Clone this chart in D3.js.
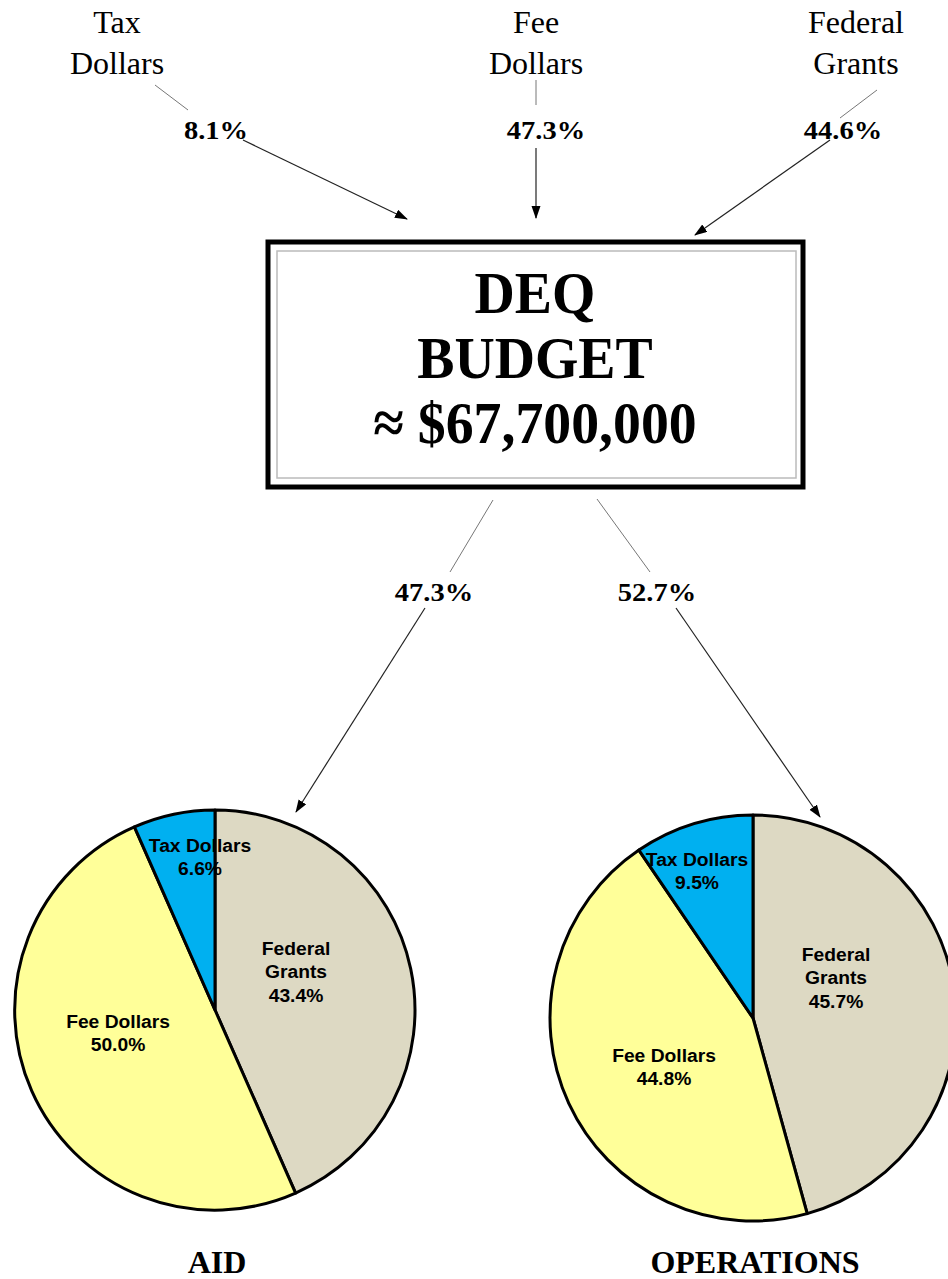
<!DOCTYPE html>
<html><head><meta charset="utf-8">
<script src="https://cdn.jsdelivr.net/npm/d3@7"></script>
<style>html,body{margin:0;padding:0;background:#fff;}svg{display:block;}</style>
</head><body>
<svg id="c" width="948" height="1279"></svg>
<script>
// ---- data ----
const sources = ["Tax Dollars", "Fee Dollars", "Federal Grants"];
const sourceShares = ["8.1%", "47.3%", "44.6%"];
const budgetTitle = ["DEQ", "BUDGET", "≈ $67,700,000"];
const splitNames = ["AID", "OPERATIONS"];
const splitShares = ["47.3%", "52.7%"];
const sliceNames = ["Federal Grants", "Fee Dollars", "Tax Dollars"];
const aidValues = [43.4, 50.0, 6.6];
const opsValues = [45.7, 44.8, 9.5];
const sliceColors = ["#DDD9C3", "#FFFF99", "#00B0F0"];

const svg = d3.select("#c");
const serif = "'Liberation Serif','Times New Roman',serif";
const sans = "'Liberation Sans',Arial,sans-serif";

svg.append("defs").append("marker")
  .attr("id","ah").attr("markerUnits","userSpaceOnUse")
  .attr("markerWidth",14).attr("markerHeight",10)
  .attr("refX",12).attr("refY",4.5).attr("orient","auto")
  .append("path").attr("d","M0,0 L13,4.5 L0,9 Z").attr("fill","#000");

function pctText(x, y, s) {
  svg.append("text").attr("transform",`translate(${x},${y}) scale(1.14,1)`)
    .attr("font-family",serif).attr("font-weight","bold")
    .attr("font-size",25).attr("text-anchor","middle").text(s);
}

// ---- top source labels ----
const topLayout = [
  {x:117, px:216, conn:[[155,85],[188,110]], arrow:[[243,140],[407,219]]},
  {x:536, px:546, conn:[[536,80],[536,105]], arrow:[[536,148],[536,218]]},
  {x:856, px:843, conn:[[877,90],[840,118]], arrow:[[830,140],[695,235]]}
];
sources.forEach((s,i)=>{
  const L = topLayout[i];
  const words = s.split(" ");
  const t = svg.append("text").attr("font-family",serif).attr("font-size",32)
    .attr("text-anchor","middle").attr("fill","#000");
  words.forEach((w,j)=>t.append("tspan").attr("x",L.x).attr("y",33+j*41).text(w));
  svg.append("line").attr("x1",L.conn[0][0]).attr("y1",L.conn[0][1]).attr("x2",L.conn[1][0]).attr("y2",L.conn[1][1])
    .attr("stroke","#777").attr("stroke-width",1);
  pctText(L.px, 139, sourceShares[i]);
  svg.append("line").attr("x1",L.arrow[0][0]).attr("y1",L.arrow[0][1]).attr("x2",L.arrow[1][0]).attr("y2",L.arrow[1][1])
    .attr("stroke","#222").attr("stroke-width",1.2).attr("marker-end","url(#ah)");
});

// ---- budget box ----
svg.append("rect").attr("x",268).attr("y",242).attr("width",535).attr("height",245)
  .attr("fill","#fff").attr("stroke","#000").attr("stroke-width",5);
svg.append("rect").attr("x",277).attr("y",251).attr("width",519).attr("height",227)
  .attr("fill","none").attr("stroke","#bbb").attr("stroke-width",1.5);
budgetTitle.forEach((t,i)=>{
  svg.append("text").attr("transform",`translate(535,${313+i*65}) scale(0.93,1)`)
    .attr("font-family",serif).attr("font-weight","bold")
    .attr("font-size",60).attr("text-anchor","middle").text(t);
});

// ---- split labels ----
const splitLayout = [
  {px:434, conn:[[493,500],[450,572]], arrow:[[425,608],[296,812]]},
  {px:657, conn:[[597,499],[650,572]], arrow:[[676,608],[820,817]]}
];
splitShares.forEach((s,i)=>{
  const L = splitLayout[i];
  svg.append("line").attr("x1",L.conn[0][0]).attr("y1",L.conn[0][1]).attr("x2",L.conn[1][0]).attr("y2",L.conn[1][1])
    .attr("stroke","#777").attr("stroke-width",1);
  pctText(L.px, 601, s);
  svg.append("line").attr("x1",L.arrow[0][0]).attr("y1",L.arrow[0][1]).attr("x2",L.arrow[1][0]).attr("y2",L.arrow[1][1])
    .attr("stroke","#222").attr("stroke-width",1.2).attr("marker-end","url(#ah)");
});

// ---- pies ----
const pies = [
  {name:splitNames[0], values:aidValues, cx:215, cy:1010, r:200,
   labels:[[81,-55],[-97,18],[-15,-158]]},
  {name:splitNames[1], values:opsValues, cx:753, cy:1018, r:203,
   labels:[[83,-57],[-89,44],[-56,-152]]}
];
const color = d3.scaleOrdinal().domain(sliceNames).range(sliceColors);
const pieGen = d3.pie().sort(null).value(d=>d.v);
pies.forEach(P=>{
  const data = sliceNames.map((n,i)=>({n, v:P.values[i]}));
  const arcs = pieGen(data);
  const arc = d3.arc().innerRadius(0).outerRadius(P.r);
  const g = svg.append("g").attr("transform",`translate(${P.cx},${P.cy})`);
  g.selectAll("path").data(arcs).join("path").attr("d",arc)
    .attr("fill",d=>color(d.data.n)).attr("stroke","#000").attr("stroke-width",3).attr("stroke-linejoin","round");
  arcs.forEach((a,i)=>{
    const lines = (a.data.n==="Federal Grants" ? ["Federal","Grants"] : [a.data.n]).concat([d3.format(".1f")(a.data.v)+"%"]);
    const [lx,ly] = P.labels[i];
    const t = g.append("text").attr("transform",`translate(${lx},${ly}) scale(1.07,1)`)
      .attr("font-family",sans).attr("font-weight","bold").attr("font-size",18)
      .attr("text-anchor","middle").attr("fill","#000");
    lines.forEach((l,j)=>t.append("tspan").attr("x",0).attr("y",j*23.5).text(l));
  });
  svg.append("text").attr("x",P.cx+2).attr("y",1273).attr("font-family",serif).attr("font-weight","bold")
    .attr("font-size",32).attr("text-anchor","middle").text(P.name);
});
</script>
</body></html>
